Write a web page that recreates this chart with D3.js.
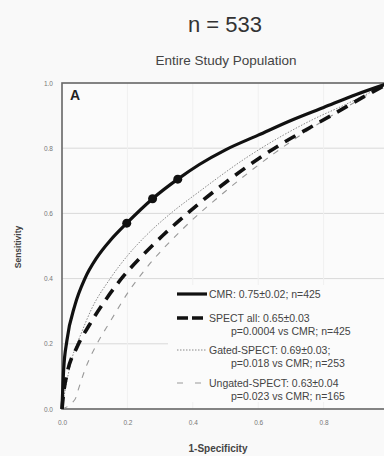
<!DOCTYPE html>
<html>
<head>
<meta charset="utf-8">
<script src="https://cdn.jsdelivr.net/npm/d3@7"></script>
<style>
  html, body { margin: 0; padding: 0; background: #f9f9f9; }
  svg { display: block; font-family: "Liberation Sans", Arial, sans-serif; }
</style>
</head>
<body>
<svg id="chart" width="384" height="456"></svg>
<script>
// ROC curves: [1-specificity, sensitivity]
const cmrCurve = [[0,0],[0.005,0.12],[0.015,0.21],[0.04,0.32],[0.07,0.40],[0.107,0.465],[0.15,0.52],[0.198,0.57],[0.277,0.645],[0.354,0.705],[0.42,0.75],[0.5,0.795],[0.6,0.84],[0.7,0.885],[0.8,0.925],[0.9,0.965],[1,1]];
const spectAllCurve = [[0,0],[0.005,0.05],[0.015,0.107],[0.046,0.19],[0.085,0.26],[0.137,0.34],[0.186,0.405],[0.247,0.472],[0.308,0.532],[0.381,0.598],[0.527,0.715],[0.604,0.77],[0.674,0.815],[0.756,0.862],[0.84,0.91],[0.918,0.955],[1,1]];
const gatedCurve = [[0,0],[0.01,0.06],[0.03,0.153],[0.06,0.235],[0.09,0.306],[0.146,0.398],[0.2,0.47],[0.26,0.535],[0.33,0.598],[0.42,0.667],[0.564,0.771],[0.765,0.887],[0.869,0.935],[1,1]];
const ungatedCurve = [[0,0],[0.04,0.03],[0.05,0.06],[0.07,0.12],[0.107,0.2],[0.146,0.266],[0.207,0.365],[0.26,0.435],[0.37,0.553],[0.5,0.668],[0.65,0.785],[0.8,0.885],[0.92,0.955],[1,1]];
// operating points marked on the CMR curve
const cmrPoints = [[0.198,0.57],[0.277,0.645],[0.354,0.705]];

const xTickValues = [0, 0.2, 0.4, 0.6, 0.8];
const yTickValues = [0, 0.2, 0.4, 0.6, 0.8, 1.0];
const gridValues = [0.2, 0.4, 0.6, 0.8];

const legendLabels = [
  ["CMR: 0.75±0.02; n=425"],
  ["SPECT all: 0.65±0.03", "p=0.0004 vs CMR; n=425"],
  ["Gated-SPECT: 0.69±0.03;", "p=0.018 vs CMR; n=253"],
  ["Ungated-SPECT: 0.63±0.04", "p=0.023 vs CMR; n=165"]
];

const svg = d3.select("#chart");
const plot = { left: 62, top: 83, right: 389, bottom: 409 };

const x = d3.scaleLinear().domain([0, 1]).range([plot.left, plot.right]);
const y = d3.scaleLinear().domain([0, 1]).range([plot.bottom, plot.top]);

// titles
svg.append("text").attr("x", 225).attr("y", 32).attr("text-anchor", "middle")
  .attr("font-size", 22).attr("fill", "#333").text("n = 533");
svg.append("text").attr("x", 226).attr("y", 65).attr("text-anchor", "middle")
  .attr("font-size", 13.5).attr("fill", "#444").text("Entire Study Population");

// plot background
svg.append("rect").attr("x", plot.left).attr("y", plot.top)
  .attr("width", plot.right - plot.left).attr("height", plot.bottom - plot.top)
  .attr("fill", "#fbfbfb");

// gridlines
svg.append("g").selectAll("line").data(gridValues).join("line")
  .attr("x1", plot.left).attr("x2", plot.right)
  .attr("y1", d => y(d)).attr("y2", d => y(d))
  .attr("stroke", "#d9d9d9").attr("stroke-width", 1);
svg.append("g").selectAll("line").data(gridValues).join("line")
  .attr("y1", plot.top).attr("y2", plot.bottom)
  .attr("x1", d => x(d)).attr("x2", d => x(d))
  .attr("stroke", "#f0f0f0").attr("stroke-width", 1);

// axes
const xAxis = d3.axisBottom(x).tickValues(xTickValues).tickSize(0).tickPadding(11).tickFormat(d3.format(".1f"));
const yAxis = d3.axisLeft(y).tickValues(yTickValues).tickSize(0).tickPadding(9).tickFormat(d3.format(".1f"));
const gx = svg.append("g").attr("transform", `translate(0,${plot.bottom})`).call(xAxis);
const gy = svg.append("g").attr("transform", `translate(${plot.left},0)`).call(yAxis);
[gx, gy].forEach(g => {
  g.select(".domain").remove();
  g.selectAll("text").attr("font-size", 6.5).attr("fill", "#777").attr("font-family", "Liberation Sans, Arial, sans-serif");
});

// frame
svg.append("rect").attr("x", plot.left).attr("y", plot.top)
  .attr("width", plot.right - plot.left).attr("height", plot.bottom - plot.top)
  .attr("fill", "none").attr("stroke", "#666").attr("stroke-width", 1.6);

// axis titles
svg.append("text").attr("x", 218).attr("y", 452).attr("text-anchor", "middle")
  .attr("font-size", 10).attr("font-weight", "bold").attr("fill", "#444").text("1-Specificity");
svg.append("text").attr("transform", "translate(21,247) rotate(-90)").attr("text-anchor", "middle")
  .attr("font-size", 8.5).attr("font-weight", "bold").attr("fill", "#444").text("Sensitivity");

// panel letter
svg.append("text").attr("x", 70).attr("y", 100).attr("font-size", 14).attr("font-weight", "bold")
  .attr("fill", "#222").text("A");

const line = d3.line().x(d => x(d[0])).y(d => y(d[1])).curve(d3.curveMonotoneX);

const styles = [
  { data: cmrCurve, stroke: "#111", width: 3.2, dash: null },
  { data: spectAllCurve, stroke: "#111", width: 3.6, dash: "12,8" },
  { data: gatedCurve, stroke: "#888", width: 1, dash: "1.5,1.5" },
  { data: ungatedCurve, stroke: "#999", width: 1.1, dash: "6,7" }
];

// legend box (drawn beneath curves)
const legend = svg.append("g");
legend.append("rect").attr("x", 168).attr("y", 285).attr("width", 220).attr("height", 117)
  .attr("fill", "#fbfbfb");

const curves = svg.append("g");
styles.slice().reverse().forEach(s => {
  curves.append("path").datum(s.data).attr("d", line)
    .attr("fill", "none").attr("stroke", s.stroke).attr("stroke-width", s.width)
    .attr("stroke-dasharray", s.dash);
});

svg.append("g").selectAll("circle").data(cmrPoints).join("circle")
  .attr("cx", d => x(d[0])).attr("cy", d => y(d[1])).attr("r", 4.5).attr("fill", "#111");

// legend entries
const rowY = [294, 318, 350, 383];
legendLabels.forEach((lines, i) => {
  const s = styles[i];
  legend.append("line").attr("x1", 177).attr("x2", 207).attr("y1", rowY[i]).attr("y2", rowY[i])
    .attr("stroke", s.stroke).attr("stroke-width", s.width)
    .attr("stroke-dasharray", i === 1 ? "11,4" : i === 3 ? "6,12" : s.dash);
  lines.forEach((t, j) => {
    legend.append("text").attr("x", j === 0 ? 209 : 231).attr("y", rowY[i] + 3.5 + j * 13.5)
      .attr("font-size", 10.5).attr("fill", "#444").text(t);
  });
});
</script>
</body>
</html>
